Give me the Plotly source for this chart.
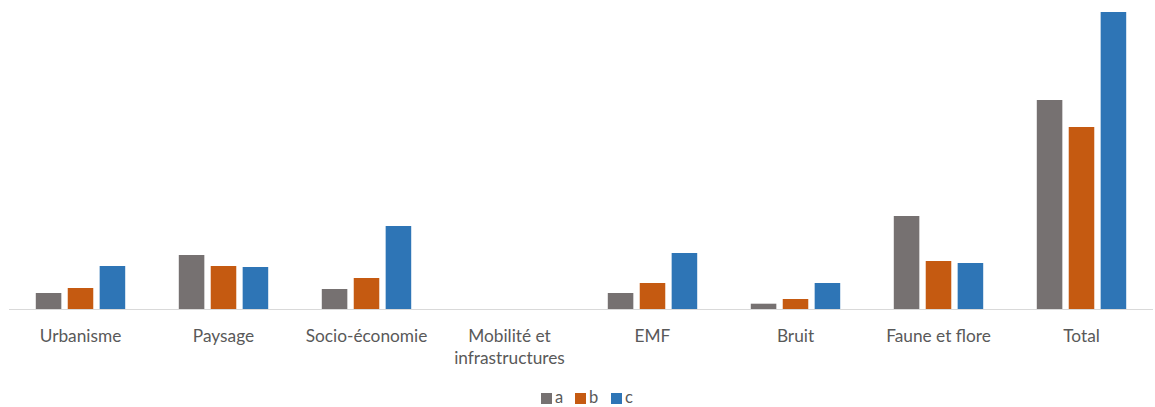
import plotly.graph_objects as go

categories = ["Urbanisme", "Paysage", "Socio-économie", "Mobilité et<br>infrastructures",
              "EMF", "Bruit", "Faune et flore", "Total"]
series_a = [16, 54, 20, 0, 16, 5.3, 93, 209]
series_b = [21, 43, 31, 0, 26, 10, 48, 182]
series_c = [43, 42, 83, 0, 56, 26, 46, 297]
names = ["a", "b", "c"]
colors = ["#767171", "#C55A11", "#2E75B6"]

W, H = 1155, 407
ML, MR, MT, MB = 9, 2, 12, 98
PW, PH = W - ML - MR, H - MT - MB

def px(x):
    return (x - ML) / PW

def py(y):
    return (H - MB - y) / PH

fig = go.Figure()
for name, vals, col in zip(names, [series_a, series_b, series_c], colors):
    fig.add_trace(go.Bar(x=categories, y=vals, name=name, marker_color=col,
                         marker_line_width=0, showlegend=False))

# custom compact legend (squares + labels)
legend_x = [541, 575, 611]
shapes, annotations = [], []
for name, col, lx in zip(names, colors, legend_x):
    shapes.append(dict(type="rect", xref="paper", yref="paper",
                       x0=px(lx), x1=px(lx + 11), y0=py(404), y1=py(393),
                       fillcolor=col, line_width=0))
    annotations.append(dict(xref="paper", yref="paper", x=px(lx + 12.5), y=py(396.5),
                            xanchor="left", yanchor="middle", text=name, showarrow=False,
                            borderpad=0,
                            font=dict(size=16.5, color="#595959")))

fig.update_layout(
    width=W, height=H,
    margin=dict(l=ML, r=MR, t=MT, b=MB, autoexpand=False),
    paper_bgcolor="white", plot_bgcolor="white",
    barmode="group", bargap=0.33, bargroupgap=0.2,
    font=dict(family="Lato, 'Open Sans', sans-serif", size=17.3, color="#595959"),
    showlegend=False,
    shapes=shapes, annotations=annotations,
    xaxis=dict(showline=True, linecolor="#d9d9d9", linewidth=1, showgrid=False,
               automargin=False,
               ticks="", ticklabelstandoff=11, tickfont=dict(size=17.3, color="#595959")),
    yaxis=dict(range=[0, 297], visible=False, showgrid=False, zeroline=False,
               automargin=False),
)

fig.write_html("out.html")
